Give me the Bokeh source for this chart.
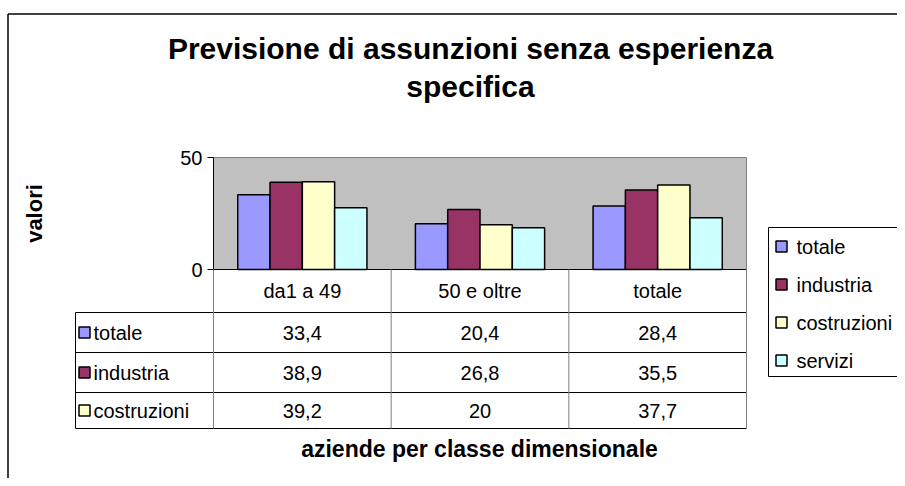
import math
from bokeh.plotting import figure
from bokeh.models import Range1d, LinearAxis, FixedTicker
from bokeh.core.properties import value
from bokeh.embed import file_html
from bokeh.resources import INLINE

# ---------------- data ----------------
title_lines = ["Previsione di assunzioni senza esperienza", "specifica"]
y_title = "valori"
x_title = "aziende per classe dimensionale"
categories = ["da1 a 49", "50 e oltre", "totale"]
series = ["totale", "industria", "costruzioni", "servizi"]
totale = [33.4, 20.4, 28.4]
industria = [38.9, 26.8, 35.5]
costruzioni = [39.2, 20.0, 37.7]
servizi = [27.6, 18.6, 23.1]
y_ticks = [0, 50]
table_rows = ["totale", "industria", "costruzioni"]   # rows visible in the data table
colors = ["#9999FF", "#993366", "#FFFFCC", "#CCFFFF"]

values = {"totale": totale, "industria": industria,
          "costruzioni": costruzioni, "servizi": servizi}

# ---------------- layout (picture pixels) ----------------
W, H = 897, 478
M = 0
AX = 213.0          # x of value axis / plot area left
CW = 177.67         # width of one category
BASE = 269.0        # y of zero line
PPU = 2.24          # pixels per value unit
FONT = value("Liberation Sans")


def dx(xp):
    return (xp - AX) / CW


def dy(yp):
    return (BASE - yp) / PPU


p = figure(width=W, height=H, output_backend="svg", toolbar_location=None,
           x_range=Range1d(dx(M), dx(M + W)), y_range=Range1d(dy(M + H), dy(M)),
           x_axis_location=None, y_axis_location=None, title_location=None,
           min_border=0, outline_line_color=None,
           background_fill_color="white", border_fill_color="white")
p.grid.visible = False

ncat = len(categories)
ymax = max(y_ticks)

# outer chart frame (top and left visible)
p.segment(x0=[dx(7.5), dx(7.5)], y0=[dy(13.5), dy(13.5)],
          x1=[dx(M + W + 20), dx(7.5)], y1=[dy(13.5), dy(M + H + 20)],
          line_color="black", line_width=1.5)

# plot area
p.quad(left=0, right=ncat, bottom=0, top=ymax,
       fill_color="#C0C0C0", line_color="#808080", line_width=1)

# bars
bw = 1 / 5.5
for j, s in enumerate(series):
    xs = [i + 0.5 + (j - (len(series) - 1) / 2) * bw for i in range(ncat)]
    p.vbar(x=xs, top=values[s], bottom=0, width=bw,
           fill_color=colors[j], line_color="black", line_width=1.5)

# category baseline
p.segment(x0=[0], y0=[0], x1=[ncat], y1=[0], line_color="black", line_width=1)

# value axis
yax = LinearAxis(fixed_location=0, ticker=FixedTicker(ticks=y_ticks), bounds=(0, ymax))
yax.axis_line_color = "black"
yax.axis_line_width = 1
yax.major_tick_line_color = "black"
yax.major_tick_out = 6
yax.major_tick_in = 0
yax.minor_tick_out = 0
yax.minor_tick_in = 0
yax.major_label_standoff = 5
yax.major_label_text_font = "Liberation Sans"
yax.major_label_text_font_size = "20px"
yax.major_label_text_color = "black"
p.add_layout(yax, "left")

# ---------------- data table ----------------
row_lines = [312, 352, 392, 428]
row_mid = [(row_lines[k] + row_lines[k + 1]) / 2 for k in range(len(table_rows))]
TL = 75  # table left
# horizontal lines
p.segment(x0=[dx(TL)] * len(row_lines), y0=[dy(y) for y in row_lines],
          x1=[ncat] * len(row_lines), y1=[dy(y) for y in row_lines],
          line_color="black", line_width=1)
# vertical column lines
p.segment(x0=list(range(ncat + 1)), y0=[0] * (ncat + 1),
          x1=list(range(ncat + 1)), y1=[dy(row_lines[-1])] * (ncat + 1),
          line_color="#808080", line_width=1)
p.segment(x0=[dx(TL)], y0=[dy(row_lines[0])], x1=[dx(TL)], y1=[dy(row_lines[-1])],
          line_color="black", line_width=1)

# header
p.text(x=[i + 0.5 for i in range(ncat)], y=[dy((BASE + row_lines[0]) / 2)] * ncat,
       text=categories, text_align="center", text_baseline="middle",
       text_font=FONT, text_font_size="20px", text_color="black")


def fmt(v):
    return f"{v:g}".replace(".", ",")


for k, s in enumerate(table_rows):
    p.text(x=[i + 0.5 for i in range(ncat)], y=[dy(row_mid[k])] * ncat,
           text=[fmt(v) for v in values[s]], text_align="center", text_baseline="middle",
           text_font=FONT, text_font_size="20px", text_color="black")

p.scatter(x=[dx(84)] * len(table_rows), y=[dy(y) for y in row_mid], marker="square",
          size=11, fill_color=[colors[series.index(s)] for s in table_rows],
          line_color="black", line_width=1.5)
p.text(x=[dx(93)] * len(table_rows), y=[dy(y) for y in row_mid], text=table_rows,
       text_align="left", text_baseline="middle", text_font=FONT,
       text_font_size="20px", text_color="black")

# ---------------- legend ----------------
LX, LT, LB = 768, 227, 376
p.quad(left=dx(LX), right=dx(M + W + 20), top=dy(LT), bottom=dy(LB),
       fill_color="white", line_color="black", line_width=1)
leg_y = [246 + 38 * k for k in range(len(series))]
p.scatter(x=[dx(781)] * len(series), y=[dy(y) for y in leg_y], marker="square",
          size=11, fill_color=colors, line_color="black", line_width=1.5)
p.text(x=[dx(796)] * len(series), y=[dy(y) for y in leg_y], text=series,
       text_align="left", text_baseline="middle", text_font=FONT,
       text_font_size="20px", text_color="black")

# ---------------- titles ----------------
p.text(x=[dx(470), dx(470)], y=[dy(48), dy(86)], text=title_lines,
       text_align="center", text_baseline="middle", text_font=FONT,
       text_font_size="30px", text_font_style="bold", text_color="black")
p.text(x=[dx(34)], y=[dy(213)], text=[y_title], angle=math.pi / 2,
       text_align="center", text_baseline="middle", text_font=FONT,
       text_font_size="22px", text_font_style="bold", text_color="black")
p.text(x=[dx(479)], y=[dy(448)], text=[x_title],
       text_align="center", text_baseline="middle", text_font=FONT,
       text_font_size="23px", text_font_style="bold", text_color="black")

open("out.html", "w").write(file_html(p, INLINE))
